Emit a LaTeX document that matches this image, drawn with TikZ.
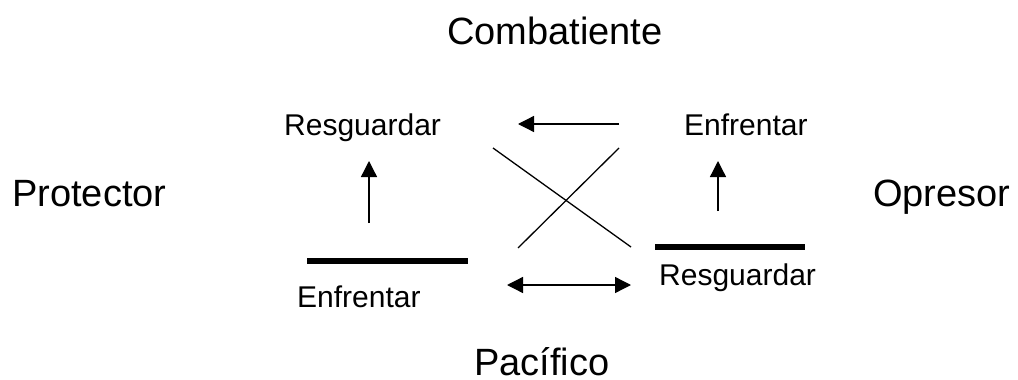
\documentclass[tikz,border=0pt]{standalone}
\usepackage{fontspec}
\setmainfont{Liberation Sans}
\usetikzlibrary{arrows.meta}

\tikzset{
    bigtxt/.style={anchor=base west, inner sep=0pt, font=\fontsize{38}{40}\selectfont},
    smalltxt/.style={anchor=base west, inner sep=0pt, font=\fontsize{30}{32}\selectfont},
    conn/.style={line width=1.3pt, -{Triangle[length=16pt,width=16pt]}},
    dconn/.style={line width=1.3pt, {Triangle[length=16pt,width=16pt]}-{Triangle[length=16pt,width=16pt]}},
    bar/.style={line width=6pt}
}

\begin{document}
\begin{tikzpicture}[x=1pt, y=-1pt]
    \useasboundingbox (0,0) rectangle (1018,380);

    % Corner words
    \node[bigtxt] (comb) at (447,44) {Combatiente};
    \node[bigtxt] (prot) at (12,206) {Protector};
    \node[bigtxt] (opre) at (873,206) {Opresor};
    \node[bigtxt] (paci) at (474,375) {Pacífico};

    % Inner words
    \node[smalltxt] (resgL) at (284,135) {Resguardar};
    \node[smalltxt] (enfrR) at (684,135) {Enfrentar};
    \node[smalltxt] (enfrL) at (297,307) {Enfrentar};
    \node[smalltxt] (resgR) at (659,285) {Resguardar};

    % Bars
    \draw[bar] (307,261) coordinate (barL1) -- (468,261) coordinate (barL2);
    \draw[bar] (655,247) coordinate (barR1) -- (805,247) coordinate (barR2);

    % Arrow ends
    \coordinate (upL0) at (369,223);
    \coordinate (upL1) at (369,161);
    \coordinate (upR0) at (718,211);
    \coordinate (upR1) at (718,161);
    \coordinate (top0) at (619,124);
    \coordinate (top1) at (518,124);
    \coordinate (bot0) at (507,285);
    \coordinate (bot1) at (631,285);

    \draw[conn] (upL0) -- (upL1);
    \draw[conn] (upR0) -- (upR1);
    \draw[conn] (top0) -- (top1);
    \draw[dconn] (bot0) -- (bot1);

    % Cross
    \coordinate (xA) at (493,148);
    \coordinate (xB) at (631,247);
    \coordinate (xC) at (619,148);
    \coordinate (xD) at (518,248);
    \draw[line width=1.3pt] (xA) -- (xB);
    \draw[line width=1.3pt] (xC) -- (xD);
\end{tikzpicture}
\end{document}
